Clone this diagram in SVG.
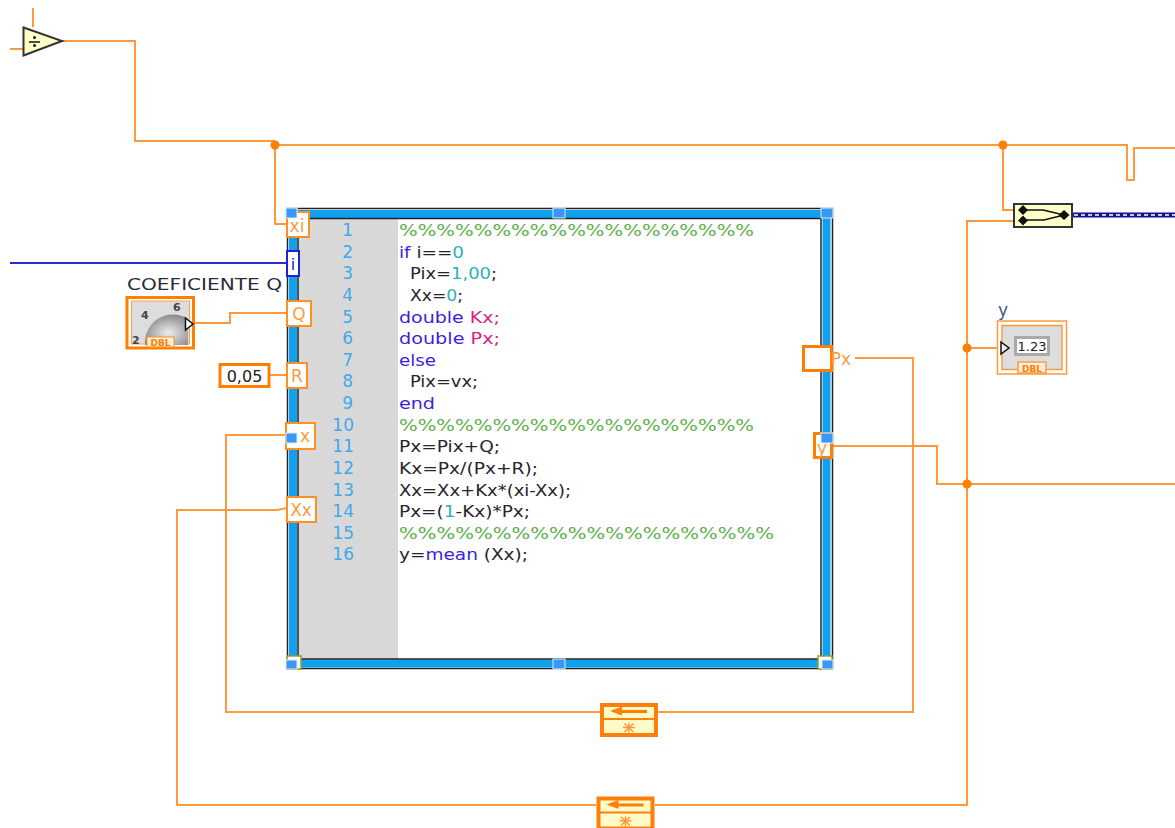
<svg xmlns="http://www.w3.org/2000/svg" width="1175" height="828" viewBox="0 0 1175 828">
<style>
text{font-family:"DejaVu Sans","Liberation Sans",sans-serif}
.w{fill:none;stroke:#ff9a3c;stroke-width:2}
.j{fill:#ff8000}
.h{fill:#3b96f5;stroke:#d8ecff;stroke-width:1}
.t{fill:#fff;stroke:#ff8f1f;stroke-width:2}
.tt{fill:#ff9a3c;font-size:17px;text-anchor:middle}
.n{fill:#3fa9ea;font-size:17px;text-anchor:end}
.c{font-size:16px;fill:#2a2230}
.g{fill:#5cb04a}.b{fill:#3a1fe0}.p{fill:#e0207f}.q{fill:#2bb0bd}
.fb{fill:#fffbc8;stroke:#ff7f0a;stroke-width:4}
</style>
<defs>
<radialGradient id="dial" cx="0.55" cy="0.6" r="0.6"><stop offset="0" stop-color="#eee"/><stop offset="1" stop-color="#8a8a8a"/></radialGradient>
<g id="feedback">
<rect class="fb" x="2" y="2" width="54" height="30"/>
<path d="M3 16H55" stroke="#ff7f0a" stroke-width="2"/>
<path d="M10 8 L22 3.500V7H47V10H22V12.500Z" fill="#ff7f0a"/>
<path d="M29 20V29.500M23 24.500H35M24.500 20.500L33.500 29M33.500 20.500L24.500 29" stroke="#ff9a3c" stroke-width="1.500" fill="none"/>
</g>
</defs>
<rect width="1175" height="828" fill="#fff"/>
<g id="connectors">
<path class="w" d="M33 8V27M10 49H23M62 41H135V141H275"/>
<path class="w" d="M275 141V224H287"/>
<path class="w" d="M275 145H1127V180H1134V148H1175"/>
<path class="w" d="M1003 145V210H1014"/>
<path class="w" d="M1014 221H967V805H655"/>
<path class="w" d="M967 348H1000"/>
<path class="w" d="M833 446H937V484H1175"/>
<path class="w" d="M855 358H913V712H658"/>
<path class="w" d="M600 712H226V435H287"/>
<path class="w" d="M287 508L277 510H177V805H596"/>
<path class="w" d="M194 323H230V313H287"/>
<path class="w" d="M269 375H287"/>
<path d="M10 263H287" fill="none" stroke="#2c2cd6" stroke-width="2"/>
<path d="M1072 215H1175" stroke="#14148c" stroke-width="5" fill="none"/>
<path d="M1074 215H1175" stroke="#fff" stroke-width="1.500" stroke-dasharray="4 3" fill="none"/>
<circle class="j" cx="275" cy="145" r="4.500"/>
<circle class="j" cx="1003" cy="145" r="4.500"/>
<circle class="j" cx="967" cy="348" r="4.500"/>
<circle class="j" cx="967" cy="484" r="4.500"/>
</g>
<g id="divide">
<path d="M23.500 27.500L62 41L23.500 55.500Z" fill="#ffffc8" stroke="#333" stroke-width="2"/>
<path d="M29 42H40" stroke="#111" stroke-width="1.500"/>
<circle cx="34.500" cy="37.500" r="1.500" fill="#111"/><circle cx="34.500" cy="45.500" r="1.500" fill="#111"/>
</g>
<g id="matlab-node">
<rect x="298" y="218" width="523" height="441" fill="#fff"/>
<rect x="298" y="218" width="100" height="441" fill="#d8d8d8"/>
<rect x="287.500" y="208.500" width="545" height="460" fill="none" stroke="#222" stroke-width="1.500"/>
<path d="M293 214H826.500V663.500H293Z" fill="none" stroke="#10a0f0" stroke-width="8"/>
<rect x="298" y="218.500" width="523" height="440.500" fill="none" stroke="#222" stroke-width="1.500"/>
<rect class="h" x="286" y="208" width="11" height="10"/>
<rect class="h" x="553" y="208" width="12" height="10"/>
<rect class="h" x="821" y="208" width="12" height="10"/>
<rect class="h" x="553" y="659" width="12" height="10"/>
<rect x="818" y="656" width="14" height="13" fill="#fff" stroke="#9a9a30" stroke-width="1.500"/>
<rect x="287" y="656" width="14" height="13" fill="#fff" stroke="#9a9a30" stroke-width="1.500"/>
<rect class="h" x="286" y="660" width="11" height="9"/>
<rect class="h" x="822" y="660" width="11" height="9"/>
<g id="line-numbers">
<text class="n" x="353" y="236">1</text>
<text class="n" x="353" y="258">2</text>
<text class="n" x="353" y="279">3</text>
<text class="n" x="353" y="301">4</text>
<text class="n" x="353" y="323">5</text>
<text class="n" x="353" y="344">6</text>
<text class="n" x="353" y="366">7</text>
<text class="n" x="353" y="387">8</text>
<text class="n" x="353" y="409">9</text>
<text class="n" x="354" y="431">10</text>
<text class="n" x="354" y="452">11</text>
<text class="n" x="354" y="474">12</text>
<text class="n" x="354" y="496">13</text>
<text class="n" x="354" y="517">14</text>
<text class="n" x="354" y="539">15</text>
<text class="n" x="354" y="560">16</text>
</g>
<g id="code">
<text class="c g" x="399" y="236" textLength="355" lengthAdjust="spacingAndGlyphs">%%%%%%%%%%%%%%%%%%%</text>
<text class="c" x="399" y="258" textLength="65" lengthAdjust="spacingAndGlyphs"><tspan class="b">if</tspan> i==<tspan class="q">0</tspan></text>
<text class="c" x="410" y="279" textLength="87" lengthAdjust="spacingAndGlyphs">Pix=<tspan class="q">1,00</tspan>;</text>
<text class="c" x="410" y="301" textLength="53" lengthAdjust="spacingAndGlyphs">Xx=<tspan class="q">0</tspan>;</text>
<text class="c" x="399" y="323" textLength="101" lengthAdjust="spacingAndGlyphs"><tspan class="b">double</tspan> <tspan class="p">Kx;</tspan></text>
<text class="c" x="399" y="344" textLength="101" lengthAdjust="spacingAndGlyphs"><tspan class="b">double</tspan> <tspan class="p">Px;</tspan></text>
<text class="c b" x="399" y="366" textLength="37" lengthAdjust="spacingAndGlyphs">else</text>
<text class="c" x="410" y="387" textLength="68" lengthAdjust="spacingAndGlyphs">Pix=vx;</text>
<text class="c b" x="399" y="409" textLength="36" lengthAdjust="spacingAndGlyphs">end</text>
<text class="c g" x="399" y="431" textLength="355" lengthAdjust="spacingAndGlyphs">%%%%%%%%%%%%%%%%%%%</text>
<text class="c" x="399" y="452" textLength="101" lengthAdjust="spacingAndGlyphs">Px=Pix+Q;</text>
<text class="c" x="399" y="474" textLength="139" lengthAdjust="spacingAndGlyphs">Kx=Px/(Px+R);</text>
<text class="c" x="399" y="496" textLength="172" lengthAdjust="spacingAndGlyphs">Xx=Xx+Kx*(xi-Xx);</text>
<text class="c" x="399" y="517" textLength="131" lengthAdjust="spacingAndGlyphs">Px=(<tspan class="q">1</tspan>-Kx)*Px;</text>
<text class="c g" x="399" y="539" textLength="375" lengthAdjust="spacingAndGlyphs">%%%%%%%%%%%%%%%%%%%%</text>
<text class="c" x="399" y="560" textLength="129" lengthAdjust="spacingAndGlyphs">y=<tspan class="b">mean</tspan> (Xx);</text>
</g>
</g>
<g id="term-xi"><rect class="t" x="287" y="212" width="22" height="25"/><text class="tt" x="297" y="232">xi</text><rect class="h" x="286" y="208" width="11" height="10"/></g>
<g id="term-i"><rect x="287" y="251" width="12" height="25" fill="#fff" stroke="#2020d8" stroke-width="2"/><text x="293" y="270" font-size="16" text-anchor="middle" fill="#2020d8">i</text></g>
<g id="term-Q"><rect class="t" x="287" y="301" width="24" height="25"/><text class="tt" x="299" y="320">Q</text></g>
<g id="term-R"><rect class="t" x="287" y="363" width="20" height="25"/><text class="tt" x="297" y="382">R</text></g>
<g id="term-x"><rect class="t" x="286" y="423" width="29" height="26"/><text class="tt" x="305" y="442">x</text><rect class="h" x="286" y="433" width="11" height="10"/></g>
<g id="term-Xx"><rect class="t" x="287" y="497" width="29" height="25"/><text class="tt" x="301" y="516">Xx</text></g>
<g id="term-Px"><rect x="803.500" y="346.500" width="28" height="24" fill="#fff" stroke="#ff8000" stroke-width="3"/><text class="tt" x="841" y="365">Px</text></g>
<g id="term-y"><rect x="814.500" y="433.500" width="17" height="24" fill="#fff" stroke="#ff8000" stroke-width="3"/><text class="tt" x="822" y="454">y</text><rect class="h" x="821" y="433" width="12" height="10"/></g>
<g id="merge">
<rect x="1014" y="204" width="58" height="23" fill="#ffffc8" stroke="#333" stroke-width="2"/>
<path d="M1023 210H1043L1064 215L1044 220H1023" fill="none" stroke="#111" stroke-width="1.500"/>
<path d="M1023 205l5 5l-5 5l-5-5ZM1023 215.500l5 5l-5 5l-5-5ZM1064 210l5.500 5l-5.500 5l-5.500-5Z" fill="#111"/>
</g>
<g id="coeficiente-q">
<text x="127" y="290" font-size="16" fill="#2b2b3b" textLength="155" lengthAdjust="spacingAndGlyphs">COEFICIENTE Q</text>
<rect x="127" y="297.500" width="66.500" height="50.500" fill="#fff" stroke="#ff8000" stroke-width="3"/>
<rect x="131.500" y="301" width="58" height="43" fill="#ddd" stroke="#ffa040"/>
<path d="M145 345A28 28 0 0 1 188 319V345Z" fill="url(#dial)"/>
<text x="173" y="311" font-size="11" font-weight="bold" fill="#444">6</text>
<text x="141" y="319" font-size="11" font-weight="bold" fill="#444">4</text>
<text x="132" y="344" font-size="11" font-weight="bold" fill="#444">2</text>
<path d="M185.500 318L193 324L185.500 330Z" fill="#fff" stroke="#111" stroke-width="1.500"/>
<rect x="147" y="337" width="27" height="10" fill="#ffeedd" stroke="#ff8f1f"/>
<text x="160.500" y="346" font-size="9" font-weight="bold" fill="#ff8000" text-anchor="middle">DBL</text>
</g>
<g id="constant-R">
<rect x="220" y="364.500" width="49" height="22" fill="#fff" stroke="#ff8000" stroke-width="3"/>
<text x="244.500" y="382" font-size="16" fill="#222" text-anchor="middle">0,05</text>
</g>
<g id="indicator-y">
<text x="998" y="316" font-size="17" fill="#3a5a8a">y</text>
<rect x="997.500" y="321" width="69" height="53" fill="#fff" stroke="#ff9a3c" stroke-width="1.500"/>
<rect x="1002" y="325.500" width="60" height="44" fill="#ddd" stroke="#ff9a3c" stroke-width="1.500"/>
<rect x="1014" y="336" width="36" height="20" fill="#aaa"/>
<rect x="1017" y="339" width="30" height="14" fill="#fff"/>
<text x="1032" y="351" font-size="13" fill="#222" text-anchor="middle">1.23</text>
<path d="M1001 342L1009 348L1001 354Z" fill="#eee" stroke="#111" stroke-width="1.500"/>
<rect x="1018" y="362" width="28" height="11" fill="#ffeedd" stroke="#ff9a3c" stroke-width="1.500"/>
<text x="1032" y="372" font-size="9" font-weight="bold" fill="#ff8000" text-anchor="middle">DBL</text>
</g>
<g id="feedback-1"><use href="#feedback" x="600" y="703"/></g>
<g id="feedback-2"><use href="#feedback" x="596.500" y="796.500"/></g>
</svg>
